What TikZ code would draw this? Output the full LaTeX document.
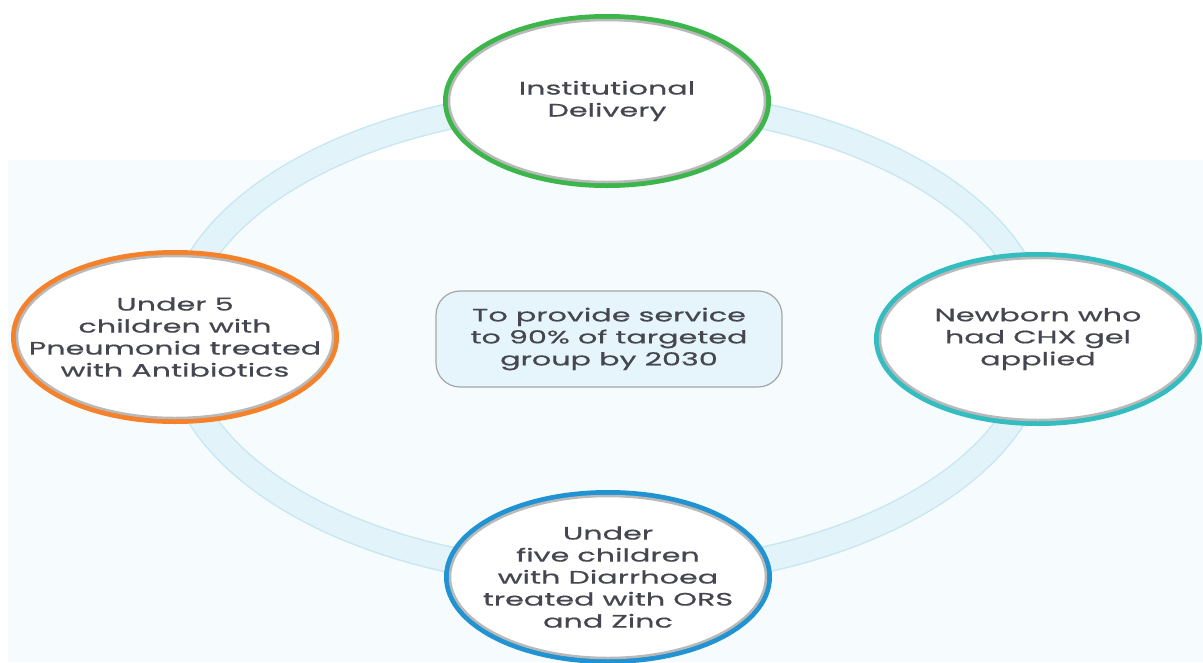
\documentclass[tikz,border=0pt]{standalone}
\usepackage{fontspec}
\usepackage{tikz}
\usetikzlibrary{shapes.geometric}
\newfontfamily\cyclefont[FakeStretch=1.68, FakeBold=0.6]{Poppins}
\definecolor{txt}{HTML}{45464F}
\definecolor{ringfill}{HTML}{E3F3FA}
\definecolor{ringedge}{HTML}{C9E7F1}
\definecolor{bgpanel}{HTML}{F6FCFE}
\definecolor{goalfill}{HTML}{E6F5FB}
\definecolor{cgreen}{HTML}{3CB54B}
\definecolor{corange}{HTML}{F5822A}
\definecolor{cteal}{HTML}{33BDC0}
\definecolor{cblue}{HTML}{2192D2}

\begin{document}
\begin{tikzpicture}[x=1pt, y=-1pt,
    every node/.style={font=\cyclefont\fontsize{18}{22}\selectfont, text=txt, align=center},
    target node/.style={ellipse, fill=white, draw=gray!55, line width=2.5pt,
      preaction={draw=#1, line width=12pt},
      minimum width=316pt, minimum height=162pt, inner xsep=-70pt, inner ysep=-20pt},
    goal node/.style={rounded corners=24pt, draw=gray!70, line width=1.2pt, fill=goalfill,
      minimum width=346pt, minimum height=96pt, inner xsep=0pt}]

  \useasboundingbox (0,0) rectangle (1203,662);
  \fill[bgpanel] (8,160) rectangle (1203,662);

  % cycle ring
  \draw[line width=27pt, ringedge] (607,338) ellipse [x radius=431, y radius=238];
  \draw[line width=24pt, ringfill] (607,338) ellipse [x radius=431, y radius=238];

  \node[goal node] (goal) at (609,339) {To provide service\\to 90\% of targeted\\group by 2030};

  \node[target node=cgreen] (inst) at (607,101) {Institutional\\Delivery};
  \node[target node=cteal] (chx) at (1038,339) {Newborn who\\had CHX gel\\applied};
  \node[target node=cblue] (diar) at (608,577) {Under\\five children\\with Diarrhoea\\treated with ORS\\and Zinc};
  \node[target node=corange] (pneu) at (175,337) {Under 5\\children with\\Pneumonia treated\\with Antibiotics};
\end{tikzpicture}
\end{document}
